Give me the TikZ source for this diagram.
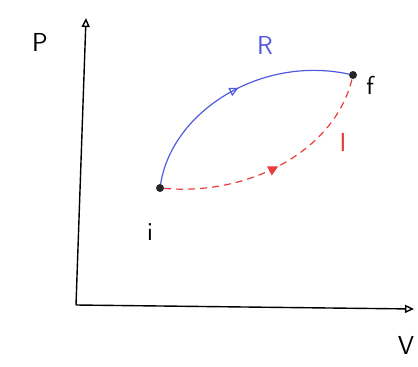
\documentclass[tikz,border=0pt]{standalone}
\usetikzlibrary{arrows.meta,decorations.markings}
\definecolor{pblue}{RGB}{80,90,220}
\definecolor{pred}{RGB}{235,60,60}
\tikzset{
  axis/.style={line width=1.4pt,black,-{Triangle[open,length=9pt,width=8pt]}},
  statept/.style={circle,fill=black!85,inner sep=0pt,minimum size=8pt},
  revpath/.style={pblue,line width=1.2pt,decoration={markings,mark=at position 0.53 with {\arrow{Triangle[open,length=9pt,width=9pt,line width=1.2pt]}}},postaction={decorate}},
  irrpath/.style={pred,line width=1.2pt,dash pattern=on 7pt off 5pt,decoration={markings,mark=at position 0.5 with {\arrow{Triangle[length=10pt,width=10pt]}}},postaction={decorate}},
  lbl/.style={font=\sffamily\fontsize{26}{28}\selectfont}
}
\begin{document}
\begin{tikzpicture}[x=1pt,y=-1pt]
\useasboundingbox (0,0) rectangle (418,367);
\coordinate (o) at (76,305);
\coordinate (ptop) at (86,18);
\coordinate (vend) at (414,309);
\draw[axis] (o) -- (ptop);
\draw[axis] (o) -- (vend);
\node[statept] (i) at (160,188) {};
\node[statept] (f) at (353,75) {};
\draw[revpath] (i) .. controls (172,112) and (260,55) .. (f);
\draw[irrpath] (i) .. controls (250,196) and (335,150) .. (f);
\node[lbl] (P) at (40,42) {P};
\node[lbl] (V) at (406,345) {V};
\node[lbl] (fl) at (370,85) {f};
\node[lbl] (il) at (150,232) {i};
\node[lbl,pblue] (R) at (265,45) {R};
\node[lbl,pred] (I) at (343,142) {I};
\end{tikzpicture}
\end{document}
